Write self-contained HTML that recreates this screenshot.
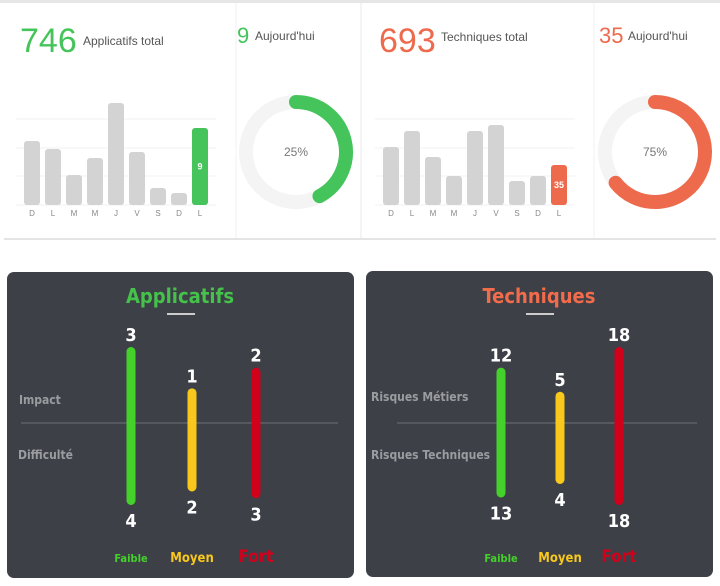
<!DOCTYPE html>
<html><head><meta charset="utf-8"><style>
body{margin:0;width:720px;height:586px;background:#fff;font-family:"Liberation Sans",sans-serif;overflow:hidden;position:relative}
svg{position:absolute;left:0;top:0}
</style></head><body>
<svg id="s" width="720" height="586">
<rect x="0" y="0" width="720" height="3" fill="#e6e6e6"/>
<rect x="4" y="238" width="712" height="2" fill="#e4e4e4"/>
<line x1="236" y1="3" x2="236" y2="238" stroke="#f0f0f0"/>
<line x1="361" y1="3" x2="361" y2="238" stroke="#e8e8e8"/>
<line x1="594" y1="3" x2="594" y2="238" stroke="#f0f0f0"/>
<text x="20" y="52" font-size="34" fill="#44c45a">746</text>
<text x="83" y="45" font-size="12" fill="#555">Applicatifs total</text>
<text x="237" y="43" font-size="22" fill="#44c45a">9</text>
<text x="255" y="40" font-size="12" fill="#555">Aujourd'hui</text>
<text x="379" y="52" font-size="34" fill="#ee6a4c">693</text>
<text x="441" y="41" font-size="12" fill="#555">Techniques total</text>
<text x="599" y="43" font-size="22" fill="#ee6a4c">35</text>
<text x="628" y="40" font-size="12" fill="#555">Aujourd'hui</text>
<g id="g1"></g><g id="g2"></g>
<rect x="7" y="272" width="347" height="306" rx="7" fill="#3d4047"/>
<rect x="366" y="271" width="347" height="306" rx="7" fill="#3d4047"/>
<g id="g3"></g>
</svg>
<script>
const days=["D","L","M","M","J","V","S","D","L"];
const appBars=[64,56,30,47,102,53,17,12,77];
const techBars=[58,74,48,29,74,80,24,29,40];
const appToday="9", techToday="35";
const appPct=25, techPct=75;
const appArcDeg=152, techArcDeg=232;
const riskCats=["Faible","Moyen","Fort"];
const appUp=[3,1,2], appDown=[4,2,3];
const techUp=[12,5,18], techDown=[13,4,18];
const NS="http://www.w3.org/2000/svg";
function el(t,a,p){const e=document.createElementNS(NS,t);for(const k in a)e.setAttribute(k,a[k]);p.appendChild(e);return e;}
function barChart(g,x0,vals,color,label,name){
  const base=205,left=x0,step=21,w=16;
  const yS=v=>base-v;
  [119,148,176,205].forEach((y,i)=>{const l=el('line',{x1:left-8,x2:left+192,y1:y,y2:y,stroke:'#f0f0f0'},g);
    });
  vals.forEach((v,i)=>{
    const last=i===vals.length-1;
    const r=el('rect',{x:left+i*step,y:yS(v),width:w,height:v,rx:3,fill:last?color:'#d3d3d3'},g);
    
    
    const t=el('text',{x:left+i*step+w/2,y:216,'font-size':8,fill:'#888','text-anchor':'middle'},g);t.textContent=days[i];
    
    
    if(last){const lt=el('text',{x:left+i*step+w/2,y:yS(v/2)+3,'font-size':9,fill:'#fff','font-weight':'bold','text-anchor':'middle'},g);lt.textContent=label;
      
      }
  });
}
function donut(g,cx,cy,deg,pct,color,name){
  const r=50;
  const c=el('circle',{cx,cy,r,fill:'none',stroke:'#f4f4f4','stroke-width':14},g);
  
  
  const a=deg*Math.PI/180;
  const x=cx+r*Math.sin(a),y=cy-r*Math.cos(a);
  const p=el('path',{d:`M${cx} ${cy-r} A${r} ${r} 0 ${deg>180?1:0} 1 ${x} ${y}`,fill:'none',stroke:color,'stroke-width':14,'stroke-linecap':'round'},g);
  
  
  const t=el('text',{x:cx,y:cy+4,'font-size':12,fill:'#777','text-anchor':'middle'},g);t.textContent=pct+'%';
  
  
}
const g1=document.getElementById('g1'),g2=document.getElementById('g2'),g3=document.getElementById('g3');
barChart(g1,24,appBars,'#44c45a',appToday,'app');
barChart(g2,383,techBars,'#ee6a4c',techToday,'tech');
donut(g1,296,152,appArcDeg,appPct,'#44c45a','app-donut');
donut(g2,655,152,techArcDeg,techPct,'#ee6a4c','tech-donut');
const cols=['#45d12c','#f8c81c','#d0021b'];
function risk(px,title,tcol,xs,up,down,l1,l2,lineX1,lineX2,name){
  const mid=423, f='"DejaVu Sans Condensed","Liberation Sans",sans-serif';
  const t=el('text',{x:px+173,y:303,'font-size':20,'font-weight':'bold',fill:tcol,'text-anchor':'middle','font-family':f},g3);t.textContent=title;
  
  
  const u=el('rect',{x:px+160,y:313,width:28,height:2,fill:'#ccc'},g3);
  
  
  const ln=el('line',{x1:lineX1,x2:lineX2,y1:mid,y2:mid,stroke:'#55585f','stroke-width':2},g3);
  
  
  const a=el('text',{x:l1[0],y:l1[1],'font-size':12,'font-weight':'bold',fill:'#9a9ca0','font-family':f},g3);a.textContent=l1[2];
  
  
  const b=el('text',{x:l2[0],y:l2[1],'font-size':12,'font-weight':'bold',fill:'#9a9ca0','font-family':f},g3);b.textContent=l2[2];
  
  
  const mu=Math.max(...up),md=Math.max(...down);
  const sU=v=>14+v/mu*62, sD=v=>55+v/md*27;
  xs.forEach((x,i)=>{
    const top=mid-sU(up[i]),bot=mid+sD(down[i]);
    const r=el('rect',{x:x-4.5,y:top,width:9,height:bot-top,rx:4.5,fill:cols[i]},g3);
    
    
    const tu=el('text',{x,y:top-6,'font-size':18,'font-weight':'bold',fill:'#fff','text-anchor':'middle','font-family':f},g3);tu.textContent=up[i];
    
    
    const td=el('text',{x,y:bot+22,'font-size':18,'font-weight':'bold',fill:'#fff','text-anchor':'middle','font-family':f},g3);td.textContent=down[i];
    
    
    const sz=[11,13,17][i];
    const lg=el('text',{x,y:562,'font-size':sz,'font-weight':'bold',fill:cols[i],'text-anchor':'middle','font-family':f},g3);lg.textContent=riskCats[i];
    
    
  });
}
risk(7,'Applicatifs','#44c24a',[131,192,256],appUp,appDown,[19,404,'Impact'],[18,459,'Difficulté'],21,338,'applicatifs');
risk(366,'Techniques','#f26b4a',[501,560,619],techUp,techDown,[371,401,'Risques Métiers'],[371,459,'Risques Techniques'],397,697,'techniques');
</script>
</body></html>
